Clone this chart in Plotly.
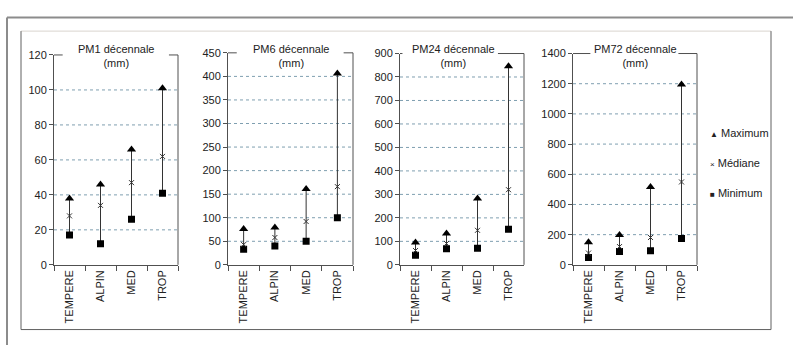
import plotly.graph_objects as go

W, H = 793, 351

categories = ["TEMPERE", "ALPIN", "MED", "TROP"]

pm1_max = [38, 46, 66, 101]
pm1_med = [28, 34, 47, 62]
pm1_min = [17, 12, 26, 41]

pm6_max = [76, 79, 161, 406]
pm6_med = [43, 58, 92, 166]
pm6_min = [33, 40, 50, 100]

pm24_max = [95, 133, 283, 846]
pm24_med = [61, 91, 147, 320]
pm24_min = [41, 68, 71, 152]

pm72_max = [149, 198, 515, 1195]
pm72_med = [78, 121, 181, 549]
pm72_min = [48, 89, 93, 174]

titles = ["PM1 décennale", "PM6 décennale", "PM24 décennale", "PM72 décennale"]
y_max = [120, 450, 900, 1400]
y_step = [20, 50, 100, 200]

legend_labels = ["Maximum", "Médiane", "Minimum"]

panels = [
    (pm1_max, pm1_med, pm1_min),
    (pm6_max, pm6_med, pm6_min),
    (pm24_max, pm24_med, pm24_min),
    (pm72_max, pm72_med, pm72_min),
]

# layout geometry (pixels)
x_px = [(54, 178), (228, 353), (400, 524), (573, 697)]
top_px = [50.7, 48.5, 49.2, 49.2]
bottom_px = 268
title_x = [0.5, 0.5, 0.43, 0.5]
gap = [(0.07, 0.927), (0.07, 0.925), (0.02, 0.79), (0.14, 0.85)]

FONT = "Liberation Sans, Arial, sans-serif"
TXT = "#222222"
AX = "#505050"
GRID = "#7f9fb0"

fig = go.Figure()
layout = dict(
    width=W, height=H, margin=dict(l=0, r=0, t=0, b=0),
    paper_bgcolor="white", plot_bgcolor="white",
    showlegend=False, font=dict(family=FONT, size=11, color=TXT),
)
shapes = []
annotations = []

for i, (mx, md, mn) in enumerate(panels):
    n = "" if i == 0 else str(i + 1)
    xa, ya = "x" + n, "y" + n
    # high-low lines
    lx, ly = [], []
    for c, a, b in zip(categories, mn, mx):
        lx += [c, c, None]
        ly += [a, b, None]
    fig.add_trace(go.Scatter(x=lx, y=ly, mode="lines", line=dict(color="#333333", width=1),
                             xaxis=xa, yaxis=ya, hoverinfo="skip"))
    fig.add_trace(go.Scatter(x=categories, y=mn, mode="markers", name=legend_labels[2],
                             marker=dict(symbol="square", size=7, color="black"),
                             xaxis=xa, yaxis=ya))
    fig.add_trace(go.Scatter(x=categories, y=md, mode="markers", name=legend_labels[1],
                             marker=dict(symbol="x-thin", size=5, color="#333333",
                                         line=dict(width=1, color="#333333")),
                             xaxis=xa, yaxis=ya))
    fig.add_trace(go.Scatter(x=categories, y=mx, mode="markers", name=legend_labels[0],
                             marker=dict(symbol="triangle-up", size=8, color="black"),
                             xaxis=xa, yaxis=ya))

    x0, x1 = x_px[i]
    layout["xaxis" + n] = dict(
        domain=[x0 / W, x1 / W], anchor=ya, type="category",
        categoryorder="array", categoryarray=categories,
        range=[-0.5, len(categories) - 0.5],
        showline=True, linecolor=AX, linewidth=1,
        ticks="outside", tickson="boundaries", ticklen=5, tickcolor=AX,
        tickangle=-90, showgrid=False, zeroline=False,
        tickfont=dict(family=FONT, size=11, color=TXT), fixedrange=True,
    )
    tv = list(range(0, y_max[i] + 1, y_step[i]))
    layout["yaxis" + n] = dict(
        domain=[1 - bottom_px / H, 1 - top_px[i] / H], anchor=xa,
        range=[0, y_max[i]], tickvals=tv,
        showline=True, linecolor=AX, linewidth=1,
        ticks="outside", ticklen=4, tickcolor=AX,
        showgrid=False, zeroline=False,
        tickfont=dict(family=FONT, size=11, color=TXT), fixedrange=True,
    )
    # dotted gridlines (excluding 0 and top)
    for v in tv[1:-1]:
        shapes.append(dict(type="line", xref=xa + " domain", yref=ya, x0=0, x1=1, y0=v, y1=v,
                           line=dict(color=GRID, width=1, dash="dot"), layer="below"))
    # frame: right side and top with gap for title
    shapes.append(dict(type="line", xref=xa + " domain", yref=ya + " domain",
                       x0=1, x1=1, y0=0, y1=1, line=dict(color=AX, width=1)))
    shapes.append(dict(type="line", xref=xa + " domain", yref=ya + " domain",
                       x0=0, x1=gap[i][0], y0=1, y1=1, line=dict(color=AX, width=1)))
    shapes.append(dict(type="line", xref=xa + " domain", yref=ya + " domain",
                       x0=gap[i][1], x1=1, y0=1, y1=1, line=dict(color=AX, width=1)))
    annotations.append(dict(text=titles[i] + "<br>(mm)", xref=xa + " domain", yref="paper",
                            x=title_x[i], y=1 - 52 / H, xanchor="center", yanchor="middle",
                            showarrow=False, font=dict(family=FONT, size=11, color=TXT)))

# legend (as annotations)
leg_sym = ["▲", "×", "■"]
leg_y = [131, 163, 194]
for s, lab, yy in zip(leg_sym, legend_labels, leg_y):
    annotations.append(dict(text="<span style='font-size:8px'>" + s + "</span> " + lab,
                            xref="paper", yref="paper", x=708 / W, y=1 - yy / H,
                            xanchor="left", yanchor="middle", showarrow=False,
                            font=dict(family=FONT, size=11, color=TXT)))

# chart area frame
def pline(xa0, ya0, xa1, ya1, color, width):
    shapes.append(dict(type="line", xref="paper", yref="paper",
                       x0=xa0 / W, y0=1 - ya0 / H, x1=xa1 / W, y1=1 - ya1 / H,
                       line=dict(color=color, width=width)))

pline(21, 26, 771, 26, "#d9d4cf", 1)
pline(21, 26, 21, 335, "#606060", 1)
pline(21, 335, 771, 335, "#606060", 1)
pline(771, 26, 771, 335, "#606060", 1)
# outer border
pline(7, 12, 793, 12, "#8c8c8c", 2)
pline(7, 12, 7, 351, "#8c8c8c", 2)

layout["shapes"] = shapes
layout["annotations"] = annotations
fig.update_layout(**layout)
fig.write_html("out.html")
